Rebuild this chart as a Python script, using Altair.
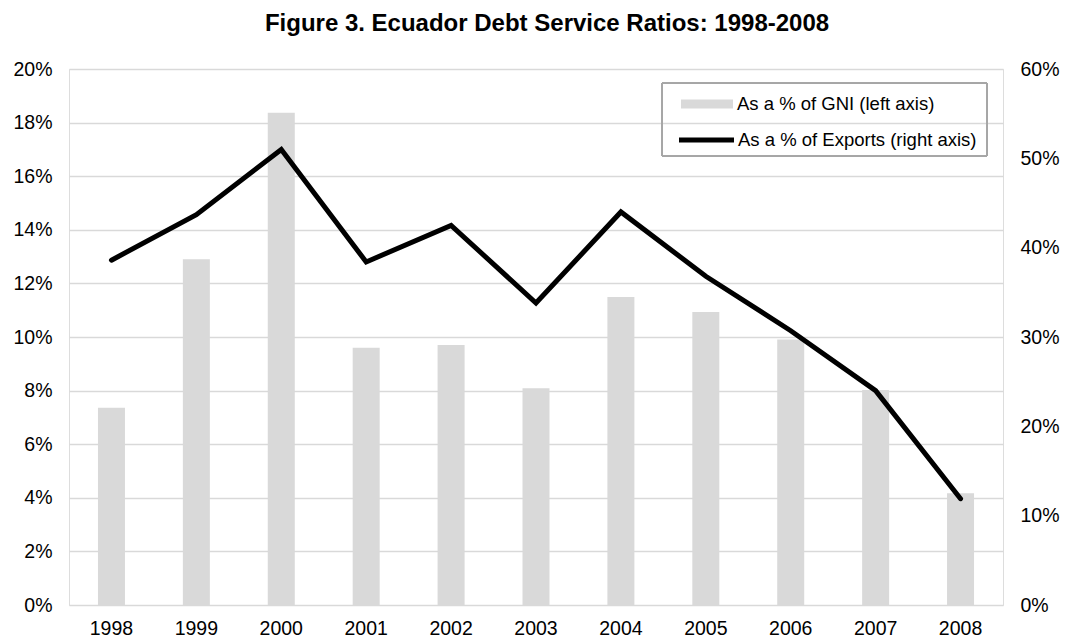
import altair as alt
import pandas as pd

years = ["1998", "1999", "2000", "2001", "2002", "2003", "2004", "2005", "2006", "2007", "2008"]
gni_pct = [7.36, 12.9, 18.37, 9.6, 9.7, 8.09, 11.49, 10.93, 9.91, 8.02, 4.17]
exports_pct = [38.6, 43.7, 51.0, 38.4, 42.5, 33.8, 44.0, 36.8, 30.7, 24.0, 11.9]
left_ticks = [0, 2, 4, 6, 8, 10, 12, 14, 16, 18, 20]
right_ticks = [0, 10, 20, 30, 40, 50, 60]
gni_label = "As a % of GNI (left axis)"
exp_label = "As a % of Exports (right axis)"
title_text = "Figure 3. Ecuador Debt Service Ratios: 1998-2008"

df = pd.DataFrame({"year": years, "gni": gni_pct, "exports": exports_pct})
df["s1"] = gni_label
df["s2"] = exp_label

FONT = "Liberation Sans"
W, H = 934, 536
AX_FS = 19.5
LG_FS = 18.5

x_enc = alt.X("year:N", sort=years,
              scale=alt.Scale(paddingInner=0.0, paddingOuter=0.0),
              axis=alt.Axis(title=None, labelAngle=0, labelFontSize=AX_FS, labelFont=FONT,
                            labelColor="#000000", labelPadding=14, ticks=False, domain=False,
                            grid=False))

bars = alt.Chart(df).mark_bar(size=27).encode(
    x=x_enc,
    y=alt.Y("gni:Q", scale=alt.Scale(domain=[0, 20], nice=False),
            axis=alt.Axis(title=None, values=left_ticks, labelExpr="datum.value + '%'",
                          labelFontSize=AX_FS, labelFont=FONT, labelColor="#000000",
                          labelPadding=17, ticks=False, domain=False,
                          grid=True, gridColor="#d9d9d9", gridWidth=1.5)),
    fill=alt.Fill("s1:N", scale=alt.Scale(domain=[gni_label], range=["#d9d9d9"]),
                  legend=alt.Legend(title=None, orient="none", legendX=612, legendY=9,
                                    symbolType="M-1,-0.17H1V0.17H-1Z", symbolSize=2704,
                                    symbolStrokeWidth=0, labelFontSize=LG_FS, labelFont=FONT,
                                    labelColor="#000000", labelOffset=4, labelLimit=500)),
)

line = alt.Chart(df).mark_line(strokeWidth=5, strokeCap="round", strokeJoin="miter").encode(
    x=alt.X("year:N", sort=years),
    y=alt.Y("exports:Q", scale=alt.Scale(domain=[0, 60], nice=False),
            axis=alt.Axis(title=None, orient="right", values=right_ticks,
                          labelExpr="datum.value + '%'", labelFontSize=AX_FS, labelFont=FONT,
                          labelColor="#000000", labelPadding=17, ticks=False,
                          domain=False, grid=False)),
    stroke=alt.Stroke("s2:N", scale=alt.Scale(domain=[exp_label], range=["#000000"]),
                      legend=alt.Legend(title=None, orient="none", legendX=607.5, legendY=41,
                                        symbolType="stroke", symbolSize=3025,
                                        symbolStrokeWidth=5, labelFontSize=LG_FS,
                                        labelFont=FONT, labelColor="#000000",
                                        labelOffset=1.5, labelLimit=500)),
)

frame = alt.Chart(df).mark_rect(fill=None, stroke="#a6a6a6", strokeWidth=1).encode(
    x=alt.value(593), x2=alt.value(918), y=alt.value(14), y2=alt.value(87)
)

chart = alt.layer(bars, line, frame).resolve_scale(
    y="independent", fill="independent", stroke="independent"
).properties(
    width=W, height=H,
    title=alt.TitleParams(title_text, fontSize=24, font=FONT, fontWeight="bold",
                          color="#000000", anchor="middle", offset=23, dx=11),
    autosize=alt.AutoSizeParams(type="none"),
    padding={"left": 61, "top": 61, "right": 79, "bottom": 36},
).configure_view(stroke=None).configure(background="#ffffff")

chart.save("out.html", embed_options={"renderer": "svg", "actions": False})
